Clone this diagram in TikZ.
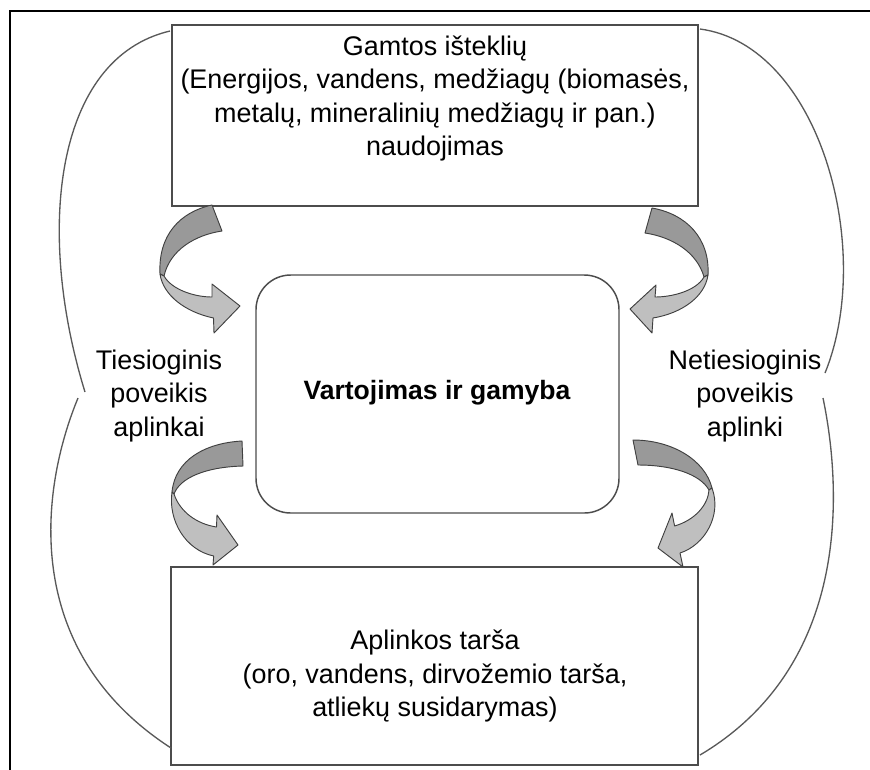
\documentclass[tikz,border=0pt]{standalone}
\usepackage{fontspec}
\setmainfont{Liberation Sans}
\begin{document}
\begin{tikzpicture}[x=0.75pt,y=-0.75pt,
  boxst/.style={draw=black!70, line width=1.1pt, fill=white, inner sep=0pt, outer sep=0pt},
  lbl/.style={font=\fontsize{20.2pt}{25.1pt}\selectfont, align=center, inner sep=0pt},
  curve/.style={draw=black!65, line width=1pt},
  darkp/.style={fill=black!40, draw=black!75, line width=0.7pt, line join=round},
  lightp/.style={fill=black!25, draw=black!75, line width=0.7pt, line join=round}]
\useasboundingbox (0,0) rectangle (870,769);
\begin{scope}
\clip (0,0) rectangle (870,769);
\draw[line width=1.6pt] (10,11) rectangle (900,800);
\end{scope}

% boxes
\node[boxst, minimum width=394.5pt, minimum height=135.75pt] (top) at (435,115.5) {};
\node[boxst, minimum width=272.25pt, minimum height=178.5pt, rounded corners=26pt] (mid) at (437.5,394) {};
\node[boxst, minimum width=395.25pt, minimum height=148.5pt] (bot) at (434.5,666) {};

% texts
\node[lbl] (toptext) at (435,98.5) {Gamtos išteklių\\(Energijos, vandens, medžiagų (biomasės,\\metalų, mineralinių medžiagų ir pan.)\\naudojimas};
\node[lbl, font=\fontsize{19.9pt}{25.1pt}\selectfont\bfseries] (midtext) at (437,393) {Vartojimas ir gamyba};
\node[lbl] (left) at (159,396) {Tiesioginis\\poveikis\\aplinkai};
\node[lbl] (right) at (745,396) {Netiesioginis\\poveikis\\aplinki};
\node[lbl] (bottext) at (435,676) {Aplinkos tarša\\(oro, vandens, dirvožemio tarša,\\atliekų susidarymas)};

% outer curves
\coordinate (lu) at (85,392);
\coordinate (ll) at (78,398);
\coordinate (ru) at (825,373);
\coordinate (rl) at (823,398);
\draw[curve] ([shift={(-2,6)}]top.north west) .. controls (55,58) and (35,230) .. (lu);
\draw[curve] (ll) .. controls (40,490) and (20,650) .. ([shift={(0,-17)}]bot.south west);
\draw[curve] ([shift={(2,4)}]top.north east) .. controls (820,45) and (875,250) .. (ru);
\draw[curve] (rl) .. controls (838,470) and (860,660) .. ([shift={(2,-10)}]bot.south east);

% top-left curved arrow
\filldraw[darkp] (212,205) .. controls (180,212) and (158,235) .. (160,274) -- (164,276) .. controls (170,250) and (195,235) .. (222,231) -- cycle;
\filldraw[lightp] (160,274) .. controls (163,295) and (185,312) .. (213.5,318) -- (214,333) -- (240,306) -- (212,284) -- (212,297) .. controls (195,297) and (172,290) .. (164,276) -- cycle;

% top-right curved arrow
\filldraw[darkp] (652,208) .. controls (686,214) and (710,238) .. (708,275) -- (704,277) .. controls (697,252) and (672,237) .. (645,233) -- cycle;
\filldraw[lightp] (708,275) .. controls (705,296) and (683,313) .. (653,318) -- (652,333) -- (630,309) -- (656,285) -- (655,297) .. controls (672,297) and (696,291) .. (704,277) -- cycle;

% bottom-left curved arrow
\filldraw[darkp] (242,441) .. controls (205,443) and (175,460) .. (172,492) -- (174,494) .. controls (180,478) and (205,467) .. (243,466) -- cycle;
\filldraw[lightp] (172,492) .. controls (168,520) and (185,550) .. (213.7,556) -- (213,565) -- (238,545) -- (217,515) -- (216.5,527) .. controls (197,524) and (180,512) .. (174,494) -- cycle;

% bottom-right curved arrow
\filldraw[darkp] (633,440) .. controls (672,440) and (705,460) .. (712,488) -- (709,490) .. controls (700,474) and (672,465) .. (638,465) -- cycle;
\filldraw[lightp] (712,488) .. controls (722,515) and (705,545) .. (680,553) -- (683,567) -- (658,548) -- (672,513) -- (674.6,526) .. controls (695,520) and (708,505) .. (709,490) -- cycle;
\end{tikzpicture}
\end{document}
